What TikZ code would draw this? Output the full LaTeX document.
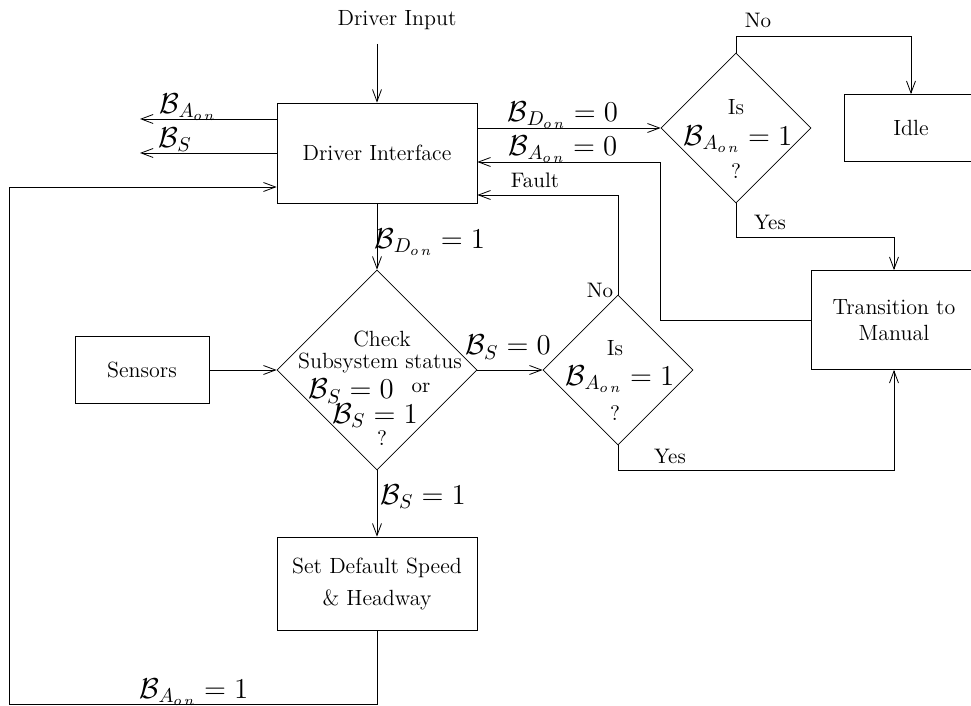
\documentclass[tikz,border=0pt]{standalone}
\usepackage{amsmath,amssymb}
\usepackage{tikz}
\usetikzlibrary{arrows.meta,positioning,shapes.geometric}
\tikzstyle{block}=[draw, rectangle, align=center, font=\fontsize{11}{13}\selectfont]
\tikzstyle{plain}=[inner sep=0pt, align=center, font=\fontsize{11}{13}\selectfont]
\tikzstyle{decision}=[draw, diamond, minimum size=75pt, inner sep=0pt]
\tikzstyle{flag}=[inner sep=0pt, font=\fontsize{14.5}{17}\selectfont]
\tikzstyle{small}=[inner sep=0pt, font=\fontsize{10.5}{12}\selectfont]
\newcommand{\Bf}[1]{\mathcal{B}_{#1}}
\newcommand{\on}{o\,n}

\begin{document}
\begin{tikzpicture}[x=0.5pt,y=-0.5pt,>={Straight Barb[length=6pt,width=4.5pt]}]
    \useasboundingbox (0,0) rectangle (971,706);

    % Blocks
    \node[block, minimum width=100pt, minimum height=50pt] (iface) at (377,153) {Driver Interface};
    \node[block, minimum width=67pt, minimum height=33.5pt] (idle) at (911,128) {Idle};
    \node[block, minimum width=83pt, minimum height=49.5pt] (trans) at (894,320) {Transition to\\ Manual};
    \node[block, minimum width=67pt, minimum height=33.5pt] (sens) at (142,370) {Sensors};
    \node[block, minimum width=100pt, minimum height=46.5pt] (setspd) at (377,583.5) {Set Default Speed\\[3pt] \& Headway};

    % Decisions
    \node[decision] (isA1) at (736,128) {};
    \node[decision] (isA2) at (618,370) {};
    \node[decision, minimum size=100pt] (check) at (377,370) {};

    % Decision texts
    \node[plain] (isA1q) at (736,107) {Is};
    \node[flag] (isA1v) at (738,139) {$\Bf{A_{\on}}=1$};
    \node[small] (isA1e) at (736,171) {?};
    \node[plain] (isA2q) at (615,348) {Is};
    \node[flag] (isA2v) at (620,379) {$\Bf{A_{\on}}=1$};
    \node[small] (isA2e) at (615,413) {?};
    \node[plain] (ckt1) at (382,339) {Check};
    \node[plain] (ckt2) at (380,363) {Subsystem status};
    \node[flag] (ckt3) at (351,391) {$\Bf{S}=0$};
    \node[small] (ckt4) at (421,388) {or};
    \node[flag] (ckt5) at (375,416) {$\Bf{S}=1$};
    \node[small] (ckt6) at (382,438) {?};

    % Input and outputs
    \node[plain] (intext) at (397,20) {Driver Input};
    \coordinate (in) at (377,44);
    \coordinate (outA) at (140,119);
    \coordinate (outS) at (140,153);
    \draw[->] (in) -- (iface);
    \draw[->] (iface.west |- outA) -- (outA);
    \draw[->] (iface.west) -- (outS);

    % Connectors
    \draw[->] (iface.east |- isA1.west) -- (isA1.west);
    \draw[->] (isA1.north) -- ++(0,-16) -| (idle.north);
    \draw[->] (isA1.south) -- ++(0,34) -| (trans.north);
    \coordinate (backA) at (660,162);
    \draw[->] (trans.west) -| (backA) -- (backA -| iface.east);
    \draw[->] (iface) -- (check);
    \draw[->] (sens) -- (check);
    \draw[->] (check) -- (isA2);
    \coordinate (fault) at (618,195);
    \draw[->] (isA2.north) -- (fault) -- (fault -| iface.east);
    \draw[->] (isA2.south) -- ++(0,25) -| (trans.south);
    \draw[->] (check) -- (setspd);
    \coordinate (loopA) at (9,704);
    \coordinate (loopB) at (9,187);
    \draw[->] (setspd.south) |- (loopA) -- (loopB) -- (loopB -| iface.west);

    % Labels
    \node[flag] (lA) at (188,107) {$\Bf{A_{\on}}$};
    \node[flag] (lS) at (175,140) {$\Bf{S}$};
    \node[flag] (lD0) at (563,115) {$\Bf{D_{\on}}=0$};
    \node[flag] (lA0) at (563,149) {$\Bf{A_{\on}}=0$};
    \node[small] (lF) at (535,180) {Fault};
    \node[small] (lNo1) at (758,20) {No};
    \node[small] (lYes1) at (770,222) {Yes};
    \node[flag] (lD1) at (430,242) {$\Bf{D_{\on}}=1$};
    \node[flag] (lS0) at (508,347) {$\Bf{S}=0$};
    \node[small] (lNo2) at (600,290) {No};
    \node[small] (lYes2) at (670,456) {Yes};
    \node[flag] (lS1) at (423,497) {$\Bf{S}=1$};
    \node[flag] (lA1) at (194,692) {$\Bf{A_{\on}}=1$};
\end{tikzpicture}
\end{document}
